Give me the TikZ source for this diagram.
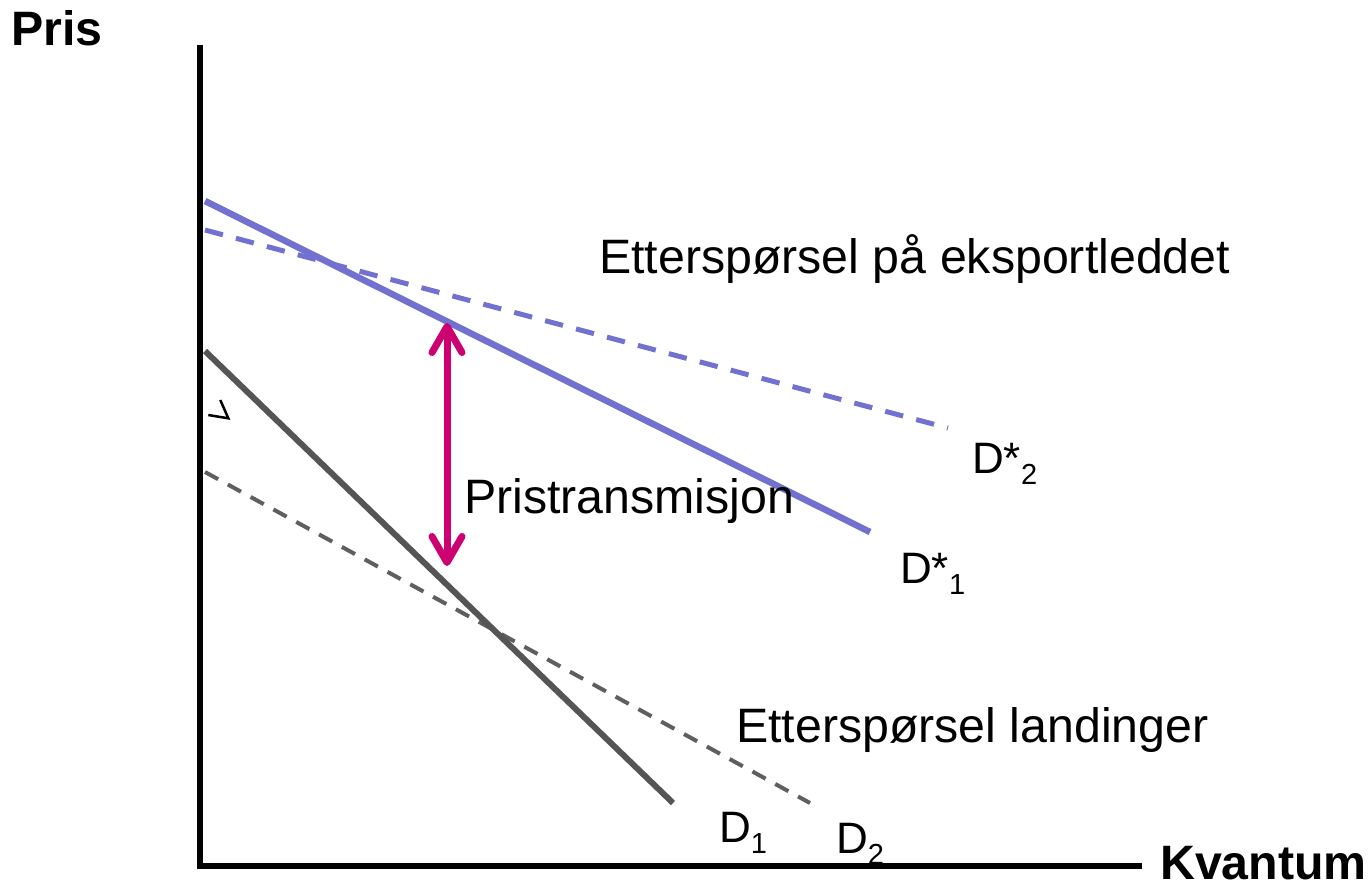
\documentclass[tikz,border=0pt]{standalone}
\usepackage{fontspec}
\setmainfont{Liberation Sans}
\usetikzlibrary{arrows.meta}
\definecolor{demblue}{RGB}{115,113,208}
\definecolor{demgray}{RGB}{85,85,85}
\definecolor{dashgray}{RGB}{95,95,95}
\definecolor{transmag}{RGB}{204,0,112}
\newcommand{\lblsize}{\fontsize{48.3}{56}\selectfont}
\newcommand{\dsize}{\fontsize{44}{50}\selectfont}
\newcommand{\subsz}{\fontsize{29}{32}\selectfont}
\newcommand{\dsub}[1]{\raisebox{-11pt}{\subsz #1}}
\begin{document}
\begin{tikzpicture}[x=1pt,y=-1pt,
  axisline/.style={line width=6pt, black},
  bluesolid/.style={line width=6.5pt, demblue},
  bluedash/.style={line width=5pt, demblue, dash pattern=on 18.5pt off 13.5pt},
  graysolid/.style={line width=6pt, demgray},
  graydash/.style={line width=4pt, dashgray, dash pattern=on 15pt off 11pt},
  transarrow/.style={line width=7pt, transmag, line cap=round,
     {Straight Barb[length=26pt,width=30pt,round]}-{Straight Barb[length=26pt,width=30pt,round]}},
  bigbold/.style={inner sep=0pt, anchor=base west, font=\lblsize\bfseries},
  biglabel/.style={inner sep=0pt, anchor=base west, font=\lblsize},
  dlabel/.style={inner sep=0pt, anchor=base west, font=\dsize}
]
\useasboundingbox (0,0) rectangle (1368,884);
% axes
\coordinate (ytop) at (200,45);
\coordinate (origin) at (200,866);
\coordinate (xend) at (1142,866);
\draw[axisline] (ytop) -- (origin);
\draw[axisline] (197,866) -- (xend);
% demand curves
\coordinate (ds1a) at (205,201);
\coordinate (ds1b) at (870,532);
\coordinate (ds2a) at (205,230);
\coordinate (ds2b) at (948,428);
\coordinate (d1a) at (205,351);
\coordinate (d1b) at (673,803);
\coordinate (d2a) at (205,472);
\coordinate (d2b) at (810,803);
\draw[bluedash] (ds2a) -- (ds2b);
\draw[bluesolid] (ds1a) -- (ds1b);
\draw[graydash] (d2a) -- (d2b);
\draw[graysolid] (d1a) -- (d1b);
% price transmission arrow
\coordinate (arrtop) at (447,323);
\coordinate (arrbot) at (447,566);
\draw[transarrow] (arrbot) -- (arrtop);
% small mark
\coordinate (m1) at (220.3,400);
\coordinate (m2) at (228.3,418.3);
\coordinate (m3) at (208.3,415);
\draw[line width=2.5pt, black, line join=miter] (m1) -- (m2) -- (m3);
% labels
\node[bigbold] (pris) at (11,45) {Pris};
\node[bigbold] (kvantum) at (1160,879) {Kvantum};
\node[biglabel] (eksport) at (599,273) {Etterspørsel på eksportleddet};
\node[biglabel] (landing) at (736,742) {Etterspørsel landinger};
\node[biglabel] (pristr) at (464,513) {Pristransmisjon};
\node[dlabel] (lds2) at (972,473) {D*\dsub{2}};
\node[dlabel] (lds1) at (900,583) {D*\dsub{1}};
\node[dlabel] (ld1) at (719,842) {D\dsub{1}};
\node[dlabel] (ld2) at (836,853) {D\dsub{2}};
\end{tikzpicture}
\end{document}
